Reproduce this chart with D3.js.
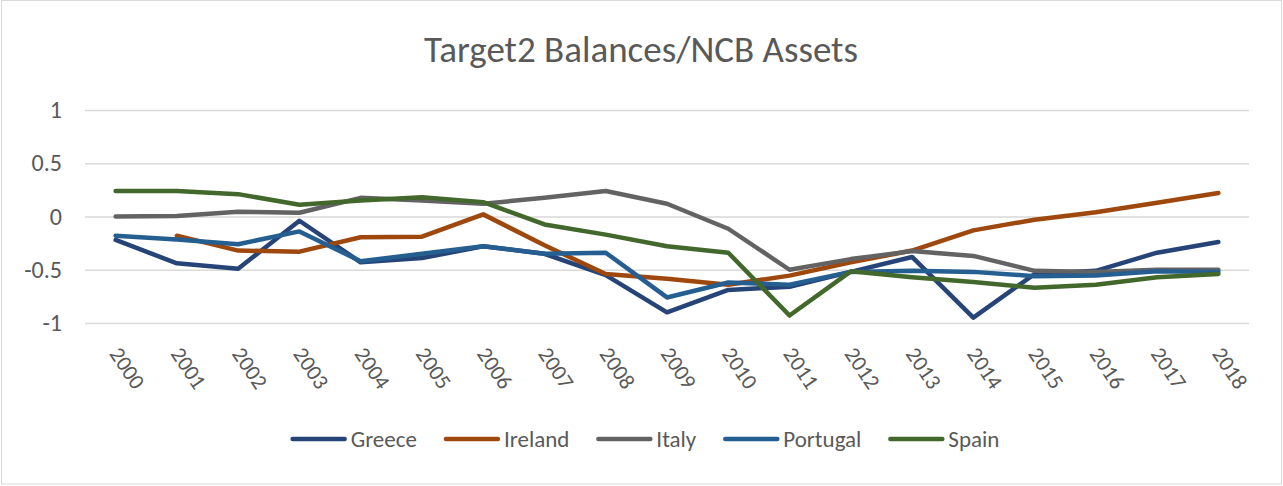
<!DOCTYPE html>
<html>
<head>
<meta charset="utf-8">
<script src="https://cdn.jsdelivr.net/npm/d3@7"></script>
<style>
	body { margin: 0; background: #fff; }
</style>
</head>
<body>
<div id="chart"></div>
<script>
var width = 1283, height = 486

const years = ["2000", "2001", "2002", "2003", "2004", "2005", "2006", "2007", "2008", "2009",
	"2010", "2011", "2012", "2013", "2014", "2015", "2016", "2017", "2018"]

const countries = ["Greece", "Ireland", "Italy", "Portugal", "Spain"]
const colors = ["#264478", "#9E480E", "#636363", "#255E91", "#43682B"]

const greece = [-0.22, -0.44, -0.49, -0.04, -0.43, -0.39, -0.28, -0.35, -0.55, -0.90,
	-0.69, -0.66, -0.52, -0.38, -0.95, -0.54, -0.51, -0.34, -0.24]
const ireland = [null, -0.18, -0.32, -0.33, -0.195, -0.19, 0.02, -0.27, -0.54, -0.585,
	-0.64, -0.555, -0.43, -0.32, -0.13, -0.03, 0.04, 0.13, 0.22]
const italy = [0.00, 0.005, 0.045, 0.035, 0.175, 0.15, 0.12, 0.175, 0.24, 0.12,
	-0.115, -0.50, -0.40, -0.325, -0.37, -0.51, -0.52, -0.50, -0.50]
const portugal = [-0.18, -0.215, -0.26, -0.14, -0.42, -0.35, -0.28, -0.35, -0.34, -0.76,
	-0.62, -0.64, -0.52, -0.51, -0.52, -0.56, -0.555, -0.515, -0.52]
const spain = [0.24, 0.24, 0.21, 0.11, 0.15, 0.18, 0.135, -0.075, -0.17, -0.28,
	-0.34, -0.93, -0.515, -0.57, -0.615, -0.67, -0.64, -0.57, -0.54]

const yTicks = [1, 0.5, 0, -0.5, -1]

const series = [greece, ireland, italy, portugal, spain].map((values, i) => ({
	name: countries[i],
	color: colors[i],
	values: values.map((v, j) => ({ year: years[j], value: v }))
}))

const font = "Carlito, Lato, sans-serif"
const textColor = "#595959"

const svg = d3.select('#chart')
	.append('svg')
	.attr('width', width)
	.attr('height', height)
	.style("font-family", font)

svg.append("rect")
	.attr("x", 1.5)
	.attr("y", 0.5)
	.attr("width", width - 3)
	.attr("height", height - 2.5)
	.attr("fill", "#fff")
	.attr("stroke", "#d9d9d9")

const x = d3.scalePoint()
	.domain(years)
	.range([85, 1249])
	.padding(0.5)

const y = d3.scaleLinear()
	.domain([-1, 1])
	.range([323, 110])

svg.append("text")
	.attr("x", 641)
	.attr("y", 62)
	.attr("text-anchor", "middle")
	.attr("fill", textColor)
	.style("font-size", "37px")
	.text("Target2 Balances/NCB Assets")

// gridlines + y labels
const yAxis = svg.append("g")
	.attr("transform", "translate(85,0)")
	.call(d3.axisLeft(y).tickValues(yTicks).tickSize(-1164).tickFormat(d => String(d)).tickPadding(23))

yAxis.select(".domain").remove()
yAxis.selectAll(".tick line")
	.attr("stroke", "#d9d9d9")
	.attr("stroke-width", 1.5)
yAxis.selectAll(".tick text")
	.attr("fill", textColor)
	.style("font-size", "24px")
	.style("font-family", font)

// x labels
const xAxis = svg.append("g")
	.attr("transform", "translate(0,323)")
	.call(d3.axisBottom(x).tickSize(0))

xAxis.select(".domain").remove()
xAxis.selectAll(".tick text")
	.attr("fill", textColor)
	.style("font-size", "22px")
	.style("font-family", font)
	.attr("text-anchor", "start")
	.attr("dy", 0)
	.attr("transform", "translate(-5,29) rotate(56)")

const line = d3.line()
	.defined(d => d.value !== null)
	.x(d => x(d.year))
	.y(d => y(d.value))

svg.append("g")
	.selectAll("path")
	.data(series)
	.join("path")
	.attr("fill", "none")
	.attr("stroke", d => d.color)
	.attr("stroke-width", 4.5)
	.attr("stroke-linejoin", "round")
	.attr("stroke-linecap", "round")
	.attr("d", d => line(d.values))

// legend, centred under the plot
const legend = svg.append("g")

var lx = 0
series.forEach(s => {
	const item = legend.append("g")
		.attr("transform", `translate(${lx},0)`)
	item.append("line")
		.attr("x1", 2).attr("x2", 54)
		.attr("stroke", s.color)
		.attr("stroke-width", 4.5)
		.attr("stroke-linecap", "round")
	const t = item.append("text")
		.attr("x", 60)
		.attr("dy", "0.35em")
		.attr("fill", textColor)
		.style("font-size", "23px")
		.text(s.name)
	lx += 60 + t.node().getComputedTextLength() + 27
})
const legendWidth = lx - 27
legend.attr("transform", `translate(${645 - legendWidth / 2},439)`)
</script>
</body>
</html>
